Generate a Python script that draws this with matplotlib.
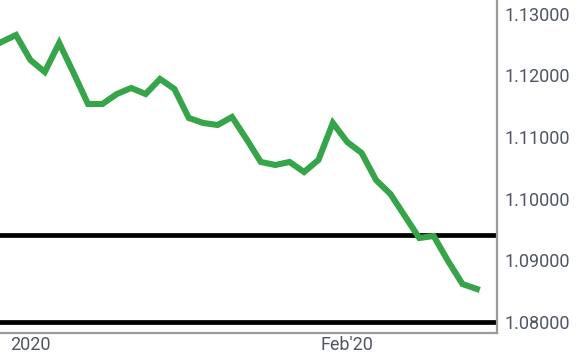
import matplotlib.pyplot as plt

plt.rcParams['font.family'] = ['Roboto', 'DejaVu Sans']

# closing prices, one per trading day
price = [1.12541, 1.12654, 1.12248, 1.12054, 1.12524, 1.12037, 1.11534, 1.11534,
         1.11696, 1.11794, 1.11696, 1.11940, 1.11778, 1.11307, 1.11226, 1.11193,
         1.11323, 1.10966, 1.10593, 1.10544, 1.10593, 1.10430, 1.10625, 1.11226,
         1.10917, 1.10739, 1.10300, 1.10073, 1.09716, 1.09359, 1.09391, 1.08985,
         1.08612, 1.08531]
day = list(range(len(price)))
levels = [1.0940, 1.0800]
xtick_pos = [2, 24]
xtick_lab = ['2020', "Feb'20"]
ytick_pos = [1.08, 1.09, 1.10, 1.11, 1.12, 1.13]

fig = plt.figure(figsize=(5.79, 3.55), dpi=100)
ax = fig.add_axes([0, 0.062, 0.8584, 0.938])

for lv in levels:
    ax.axhline(lv, color='black', lw=3.4, zorder=2)
ax.plot(day, price, color='#36a449', lw=4.4, solid_joinstyle='miter', zorder=3)

ax.set_xlim(-0.11, 34.4)
ax.set_ylim(1.07817, 1.13222)

ax.yaxis.tick_right()
ax.set_yticks(ytick_pos)
ax.set_yticklabels(['%.5f' % v for v in ytick_pos])
ax.set_xticks(xtick_pos)
ax.set_xticklabels(xtick_lab)
ax.tick_params(axis='both', length=0, labelsize=13, labelcolor='#4f5664')
ax.tick_params(axis='y', pad=5.5)
ax.tick_params(axis='x', pad=2)

for s in ['left', 'top']:
    ax.spines[s].set_visible(False)
for s in ['right', 'bottom']:
    ax.spines[s].set_color('#9a9a9a')
    ax.spines[s].set_linewidth(1.6)

fig.savefig('out.png', dpi=100)
